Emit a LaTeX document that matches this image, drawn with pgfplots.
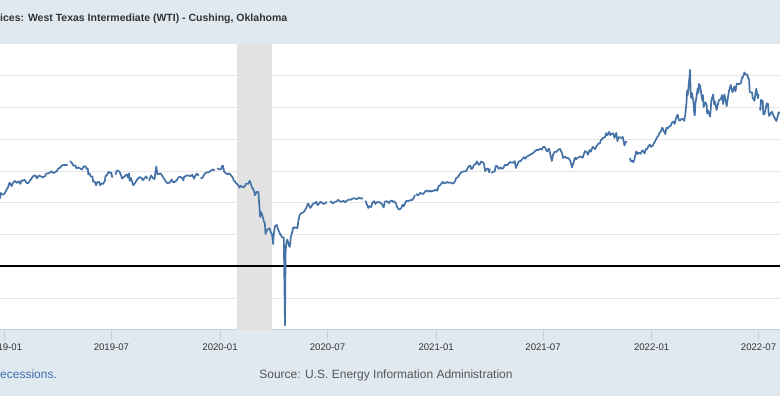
\documentclass[border=0pt]{standalone}
\usepackage{fontspec}
\setmainfont{Liberation Sans}
\usepackage{pgfplots}
\usepackage{pgfplotstable}
\pgfplotsset{compat=1.18}
\definecolor{bg}{HTML}{E1E9F0}
\definecolor{wti}{HTML}{4572A7}
\definecolor{rec}{HTML}{E2E2E2}
\definecolor{gridc}{HTML}{E6E6E6}
\definecolor{tickc}{HTML}{C4D2E2}
\definecolor{txt}{HTML}{333333}
\definecolor{srcc}{HTML}{555555}
\definecolor{linkc}{HTML}{3F6FAE}
% days since 2019-01-01, WTI price (USD/barrel)
\pgfplotstableread{
d v
-8 42.5
-6 46.2
-4 45.3
-1 45.4
1 46.5
3 48.0
6 49.8
8 52.4
9 52.6
12 50.5
14 52.3
17 53.8
21 52.6
24 53.6
27 52.0
29 54.2
30 53.8
34 54.6
37 52.6
40 52.4
43 53.9
45 55.0
48 56.6
50 57.0
52 57.3
55 55.5
58 57.2
62 56.6
65 56.1
68 56.6
71 58.5
74 58.6
77 59.1
79 59.9
83 58.8
86 59.4
89 60.1
91 61.6
94 62.1
97 63.5
100 63.9
103 63.8
107 63.8
108 nan
111 66.3
114 65.2
117 63.3
120 63.6
122 61.8
125 62.3
128 61.7
131 61.0
134 62.8
137 63.1
139 61.4
141 61.7
142 57.9
144 58.6
146 56.6
149 56.6
150 53.5
153 53.3
155 51.1
157 53.0
160 53.3
162 51.1
164 52.3
167 51.9
170 54.0
171 56.7
174 57.8
176 59.4
178 59.4
180 58.5
181 59.1
182 56.3
183 57.3
184 nan
188 57.7
190 60.4
192 60.2
195 59.6
197 57.6
198 56.8
199 55.3
202 56.2
205 57.3
207 57.9
209 56.0
211 58.6
212 53.9
214 55.7
218 51.1
221 52.5
225 54.9
229 56.3
233 55.4
234 54.2
238 55.9
240 56.7
242 55.1
244 nan
245 53.9
248 57.3
251 55.8
254 54.9
257 62.9
259 58.1
261 58.1
264 58.6
267 57.1
269 55.9
272 54.1
275 52.6
277 52.5
280 52.8
283 54.7
286 52.8
289 53.4
291 54.0
295 56.2
297 56.6
301 55.5
303 54.2
304 56.2
308 57.2
311 57.2
315 56.8
318 57.7
321 55.2
323 57.0
326 58.4
329 57.1
331 nan
332 55.2
336 56.1
339 58.4
343 59.2
346 59.3
349 60.1
353 61.1
356 60.4
358 nan
360 61.7
364 61.1
367 61.2
368 63.1
370 63.3
372 59.6
374 59.0
377 58.1
379 58.2
381 58.5
385 56.7
387 55.6
388 54.2
391 53.1
393 52.1
395 51.6
398 49.6
400 50.8
402 50.3
405 49.6
408 51.2
409 52.1
413 52.1
415 53.8
416 53.4
419 49.9
421 48.7
423 47.1
424 44.8
427 46.8
430 46.8
431 41.3
433 31.1
434 34.4
436 33.0
437 31.7
439 28.7
441 26.9
442 20.4
444 22.6
446 23.4
449 24.0
451 21.5
453 20.1
455 14.1
456 20.5
458 25.3
461 26.1
463 23.6
464 22.8
467 20.1
468 19.9
470 18.3
473 18.3
475 -37.0
476 8.9
477 13.8
478 16.5
479 16.9
482 12.8
483 12.3
484 15.1
485 18.8
486 19.8
489 24.6
491 24.0
493 24.7
496 24.1
498 29.4
500 32.5
503 33.7
506 33.9
509 35.5
511 36.8
514 39.6
516 38.2
518 36.8
521 38.6
523 39.6
525 39.8
528 40.7
530 38.6
533 39.7
535 40.7
538 40.0
540 39.3
543 39.8
546 40.6
548 nan
551 40.6
553 40.9
556 39.6
559 40.6
562 40.8
565 41.9
568 41.0
570 40.6
574 41.3
577 40.3
579 41.2
582 41.8
584 42.2
586 41.9
589 42.6
591 42.9
594 42.7
597 42.3
600 43.4
603 42.7
605 43.0
607 42.6
610 nan
611 41.4
613 39.8
616 36.8
618 38.0
621 37.3
623 40.2
626 41.1
628 39.3
630 40.3
633 40.6
635 40.2
637 40.2
640 38.7
642 37.1
644 40.7
647 41.1
649 40.6
651 39.8
653 41.0
656 41.5
658 40.6
660 41.0
663 39.6
665 37.4
667 36.2
669 35.8
672 36.8
674 38.8
676 37.8
679 40.3
681 41.4
683 41.2
686 41.4
688 41.8
690 41.7
693 43.0
695 44.9
696 nan
697 45.7
700 44.6
702 45.3
704 46.3
707 45.8
709 45.6
711 46.6
714 47.6
716 47.8
718 47.0
721 47.7
723 47.0
725 47.6
728 47.6
730 48.5
733 47.6
735 50.6
737 50.8
740 52.2
742 53.2
744 52.4
747 52.4
749 53.2
752 52.6
754 52.8
756 52.8
758 52.3
760 52.2
763 53.6
765 55.7
768 56.2
770 57.4
772 58.7
775 59.5
778 59.8
782 60.0
785 62.4
787 63.2
789 63.5
790 61.5
792 61.3
795 63.8
798 64.5
800 66.1
803 64.0
805 64.4
807 66.0
810 65.6
812 64.6
814 60.0
817 61.5
819 61.6
821 59.2
822 61.5
823 nan
825 58.7
827 59.6
830 59.7
832 63.2
834 63.2
837 61.4
840 62.4
842 61.4
845 62.0
847 63.9
849 63.9
851 63.6
853 64.5
856 65.7
859 65.3
861 65.3
864 66.3
866 62.0
868 63.6
871 66.1
874 66.3
877 67.7
880 68.8
882 67.7
884 69.0
887 69.6
890 70.3
893 70.9
896 71.6
899 72.8
901 73.3
904 73.2
907 74.1
910 73.5
912 75.2
915 75.2
917 73.4
919 72.4
922 74.1
924 71.1
927 66.4
929 70.3
932 72.2
935 72.1
938 73.6
941 73.9
944 71.3
946 68.2
948 69.2
952 68.3
954 68.3
957 67.3
959 65.5
961 62.3
964 65.6
966 68.4
968 67.5
971 68.5
973 68.6
975 69.3
979 68.4
981 70.5
983 72.6
986 72.0
988 70.3
991 73.3
993 72.2
996 75.3
998 74.8
1000 73.8
1003 75.9
1006 77.4
1008 77.4
1010 79.4
1013 80.6
1015 81.2
1017 81.3
1019 83.9
1021 82.5
1024 84.7
1026 82.7
1029 83.6
1031 83.8
1033 80.9
1036 84.1
1038 78.8
1040 81.3
1042 81.3
1045 80.8
1047 81.6
1050 76.1
1052 78.5
1054 78.4
1056 nan
1059 68.2
1061 66.2
1063 66.5
1065 65.6
1066 66.5
1068 69.5
1070 72.4
1072 70.7
1074 71.7
1077 70.9
1079 72.4
1081 73.0
1084 71.1
1086 73.9
1088 73.8
1091 75.9
1093 76.6
1095 75.3
1098 76.1
1100 77.8
1102 78.9
1105 81.2
1107 82.1
1109 83.8
1112 85.4
1114 87.4
1116 85.6
1119 83.3
1121 87.4
1123 86.8
1126 88.2
1128 88.3
1130 90.3
1133 91.2
1135 89.7
1137 93.1
1140 95.5
1142 92.1
1144 91.8
1147 93.0
1149 92.8
1151 91.6
1153 95.7
1155 103.4
1156 110.6
1157 107.7
1160 119.4
1161 123.7
1162 108.7
1163 106.0
1164 109.3
1167 103.0
1168 96.4
1169 95.0
1170 102.9
1171 104.7
1174 112.1
1175 109.3
1176 114.9
1177 112.3
1178 113.9
1181 105.9
1182 104.2
1183 107.8
1184 100.3
1187 103.3
1189 101.9
1190 96.2
1191 98.3
1195 94.3
1197 104.3
1200 108.2
1202 101.9
1203 103.8
1206 98.5
1208 102.0
1210 104.7
1213 105.2
1215 107.8
1217 102.2
1219 108.3
1222 103.1
1223 100.9
1225 106.1
1227 110.5
1230 114.2
1231 112.4
1233 109.6
1236 113.2
1238 110.3
1240 115.1
1244 114.7
1247 115.3
1249 118.9
1250 118.8
1252 120.7
1253 122.1
1255 120.7
1258 120.9
1259 118.9
1261 117.6
1262 109.6
1266 109.5
1267 106.2
1270 104.3
1273 111.8
1274 109.8
1276 105.8
1277 108.4
1278 nan
1279 99.5
1280 98.5
1281 104.8
1284 104.1
1285 95.8
1287 95.8
1288 97.6
1291 102.6
1293 102.3
1294 96.4
1295 94.7
1298 96.7
1300 97.3
1302 95.0
1305 93.0
1307 91.5
1309 94.0
1311 97.0
1314 96.5
}\wtidata
\begin{document}
\begin{tikzpicture}[x=1pt,y=1pt]
\path[use as bounding box] (0pt,0pt) rectangle (780pt,396pt);
\clip (0pt,0pt) rectangle (780pt,396pt);
\fill[bg] (0pt,0pt) rectangle (780pt,396pt);
\begin{axis}[
  at={(0pt,352pt)}, anchor=north west,
  scale only axis, width=780pt, height=286pt,
  xmin=-7.62, xmax=1313.3, ymin=-40, ymax=140,
  axis background/.style={fill=white},
  axis x line*=bottom, axis y line*=left,
  x axis line style={draw=tickc, line width=1pt},
  y axis line style={draw=none},
  xtick={0,181,365,547,731,912,1096,1277},
  xticklabels={2019-01,2019-07,2020-01,2020-07,2021-01,2021-07,2022-01,2022-07},
  ytick={-20,0,20,40,60,80,100,120},
  yticklabels={},
  ytick style={draw=none},
  ymajorgrids,
  major grid style={draw=gridc, line width=1pt},
  tick align=outside,
  major tick length=10pt,
  xtick style={draw=tickc, line width=1pt},
  xticklabel style={text=txt, font=\fontsize{9.6}{12}\selectfont, inner sep=0pt, anchor=base, yshift=-11pt},
  xticklabel shift=0pt,
  unbounded coords=jump,
  clip=true,
]
\addplot[fill=rec, draw=none] coordinates {(394,-40) (394,140) (453,140) (453,-40)} -- cycle;
\addplot[black, line width=2pt] coordinates {(-10,0) (1320,0)};
\addplot[wti, line width=1.7pt, line join=round] table[x=d, y=v] {\wtidata};
\end{axis}
\node[anchor=base west, inner sep=0pt, text=txt, font=\fontsize{10.5}{12}\selectfont\bfseries] at (0pt,374pt) {ices: West Texas Intermediate (WTI) - Cushing, Oklahoma};
\node[anchor=base west, inner sep=0pt, text=linkc, font=\fontsize{12}{14}\selectfont] at (0pt,17pt) {ecessions.};
\node[anchor=base, inner sep=0pt, text=srcc, font=\fontsize{12}{14}\selectfont] at (386pt,17pt) {Source: U.S. Energy Information Administration};
\end{tikzpicture}
\end{document}
